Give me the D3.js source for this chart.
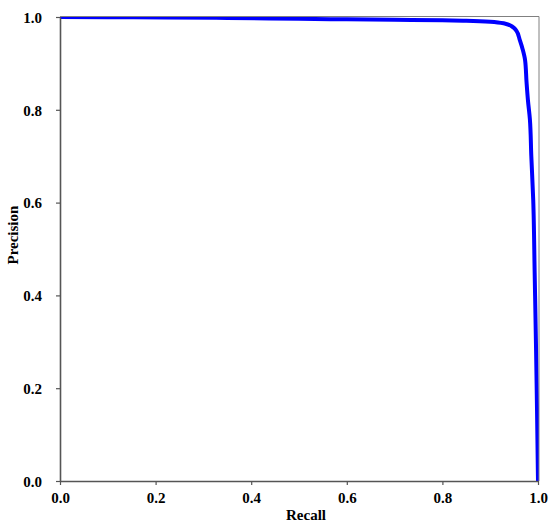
<!DOCTYPE html>
<html><head><meta charset="utf-8">
<script src="https://cdn.jsdelivr.net/npm/d3@7"></script>
<style>body{margin:0;background:#fff;} text{font-family:"Liberation Serif","Times New Roman",serif;font-weight:bold;}</style>
</head><body>
<svg id="c" width="550" height="527"></svg>
<script>
const recall =    [0, 0.10, 0.22, 0.35, 0.50, 0.60, 0.70, 0.80, 0.85, 0.90, 0.93, 0.948, 0.955, 0.962, 0.968, 0.973, 0.976, 0.979, 0.983, 0.986, 0.990, 0.993, 0.996, 0.998, 1.0];
const precision = [1.0, 0.9995, 0.999, 0.998, 0.996, 0.995, 0.994, 0.993, 0.992, 0.990, 0.986, 0.978, 0.970, 0.950, 0.930, 0.907, 0.860, 0.820, 0.780, 0.700, 0.606, 0.450, 0.280, 0.150, 0.0];
const xTicks = [0, 0.2, 0.4, 0.6, 0.8, 1.0];
const yTicks = [0, 0.2, 0.4, 0.6, 0.8, 1.0];

const svg = d3.select("#c");
const L = 60, R = 538, T = 17, B = 481;
const x = d3.scaleLinear().domain([0, 1]).range([L, R]);
const y = d3.scaleLinear().domain([0, 1]).range([B, T]);

svg.append("defs").append("clipPath").attr("id", "plot")
  .append("rect").attr("x", L).attr("y", T - 1).attr("width", R - L + 1).attr("height", B - T + 1);

const pts = recall.map((r, i) => [r, precision[i]]);
svg.append("path").datum(pts).attr("clip-path", "url(#plot)")
  .attr("fill", "none").attr("stroke", "#0000ff").attr("stroke-width", 4).attr("stroke-linejoin", "round")
  .attr("d", d3.line().x(d => x(d[0])).y(d => y(d[1])).curve(d3.curveMonotoneY));

// frame top/right
svg.append("line").attr("x1", L).attr("x2", R + 1).attr("y1", T - 0.5).attr("y2", T - 0.5).attr("stroke", "#808080").attr("stroke-width", 1);
svg.append("line").attr("x1", R + 1).attr("x2", R + 1).attr("y1", T - 0.5).attr("y2", B).attr("stroke", "#808080").attr("stroke-width", 1);

const xAxis = svg.append("g").attr("transform", `translate(0,${B})`)
  .call(d3.axisBottom(x).tickValues(xTicks).tickFormat(d3.format(".1f")).tickSize(4).tickSizeOuter(0));
const yAxis = svg.append("g").attr("transform", `translate(${L},0)`)
  .call(d3.axisLeft(y).tickValues(yTicks).tickFormat(d3.format(".1f")).tickSize(4).tickSizeOuter(0));
[xAxis, yAxis].forEach(g => {
  g.select(".domain").attr("stroke", "#555").attr("stroke-width", 1.6);
  g.selectAll(".tick line").attr("stroke", "#555").attr("stroke-width", 1.2);
  g.selectAll("text").attr("fill", "#000").style("font-size", "15px").style("font-family", "Liberation Serif, serif").style("font-weight", "bold");
});
xAxis.selectAll("text").attr("dy", "0").attr("y", 22);
yAxis.selectAll("text").attr("x", -18).attr("dy", "0.35em");

svg.append("text").attr("x", 306).attr("y", 520).attr("text-anchor", "middle").style("font-size", "15px").text("Recall");
svg.append("text").attr("transform", `translate(18,${y(0.53)}) rotate(-90)`).attr("text-anchor", "middle").style("font-size", "15px").text("Precision");
</script>
</body></html>
